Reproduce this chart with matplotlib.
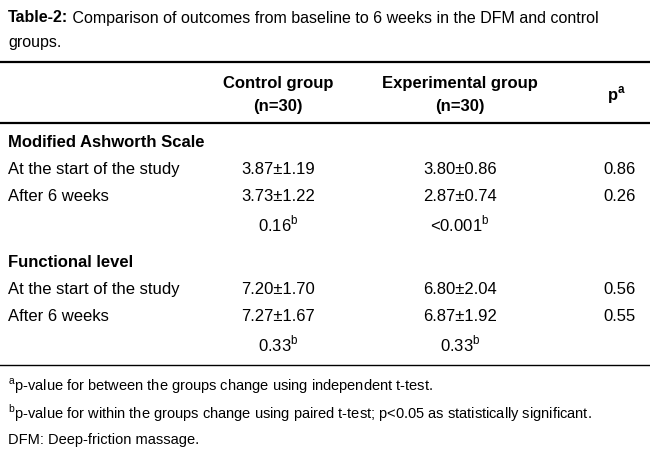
import matplotlib
matplotlib.use("Agg")
import matplotlib.pyplot as plt

plt.rcParams["font.family"] = ["Liberation Sans", "DejaVu Sans"]

title_bold = "Table-2:"
title_rest = " Comparison of outcomes from baseline to 6 weeks in the DFM and control"
title_line2 = "groups."
headers = ["Control group\n(n=30)", "Experimental group\n(n=30)", "p$^{\\mathregular{a}}$"]

sections = ["Modified Ashworth Scale", "Functional level"]
row_labels = ["At the start of the study", "After 6 weeks", ""]
control = [["3.87\u00b11.19", "3.73\u00b11.22", "0.16$^{\\mathregular{b}}$"],
           ["7.20\u00b11.70", "7.27\u00b11.67", "0.33$^{\\mathregular{b}}$"]]
experimental = [["3.80\u00b10.86", "2.87\u00b10.74", "<0.001$^{\\mathregular{b}}$"],
                ["6.80\u00b12.04", "6.87\u00b11.92", "0.33$^{\\mathregular{b}}$"]]
p_values = [["0.86", "0.26", ""], ["0.56", "0.55", ""]]

footnotes = ["$^{\\mathregular{a}}$p-value for between the groups change using independent t-test.",
             "$^{\\mathregular{b}}$p-value for within the groups change using paired t-test; p<0.05 as statistically significant.",
             "DFM: Deep-friction massage."]

W, H = 650, 464
fig = plt.figure(figsize=(W / 100, H / 100), dpi=100)
fig.patch.set_facecolor("white")
ax = fig.add_axes([0, 0, 1, 1])
ax.set_xlim(0, W)
ax.set_ylim(H, 0)
ax.axis("off")

fs = 12
tfs = 11.5
t = ax.text(8, 18, title_bold, fontsize=tfs, fontweight="bold", va="center")
fig.canvas.draw()
x_end = ax.transData.inverted().transform((t.get_window_extent().x1, 0))[0]
ax.text(x_end, 18, title_rest, fontsize=tfs, va="center")
ax.text(8, 43, title_line2, fontsize=tfs, va="center")

ax.plot([0, W], [63, 63], color="black", lw=1.6)
ax.plot([0, W], [124, 124], color="black", lw=1.6)
ax.plot([0, W], [366, 366], color="black", lw=1.0)

col_x = [278, 460, 616]
for x, h in zip(col_x, headers):
    ax.text(x, 95, h, fontsize=fs, fontweight="bold", ha="center", va="center",
            linespacing=1.7)

y0 = [143, 263]
for s, sec in enumerate(sections):
    ax.text(8, y0[s], sec, fontsize=fs, fontweight="bold", va="center")
    for r in range(3):
        y = y0[s] + 27 * (r + 1)
        ax.text(8, y, row_labels[r], fontsize=fs, va="center")
        ax.text(col_x[0], y, control[s][r], fontsize=fs, ha="center", va="center")
        ax.text(col_x[1], y, experimental[s][r], fontsize=fs, ha="center", va="center")
        ax.text(636, y, p_values[s][r], fontsize=fs, ha="right", va="center")

for i, fn in enumerate(footnotes):
    ax.text(8, 386 + 27 * i, fn, fontsize=10.5, va="center")

fig.savefig("out.png", dpi=100)
